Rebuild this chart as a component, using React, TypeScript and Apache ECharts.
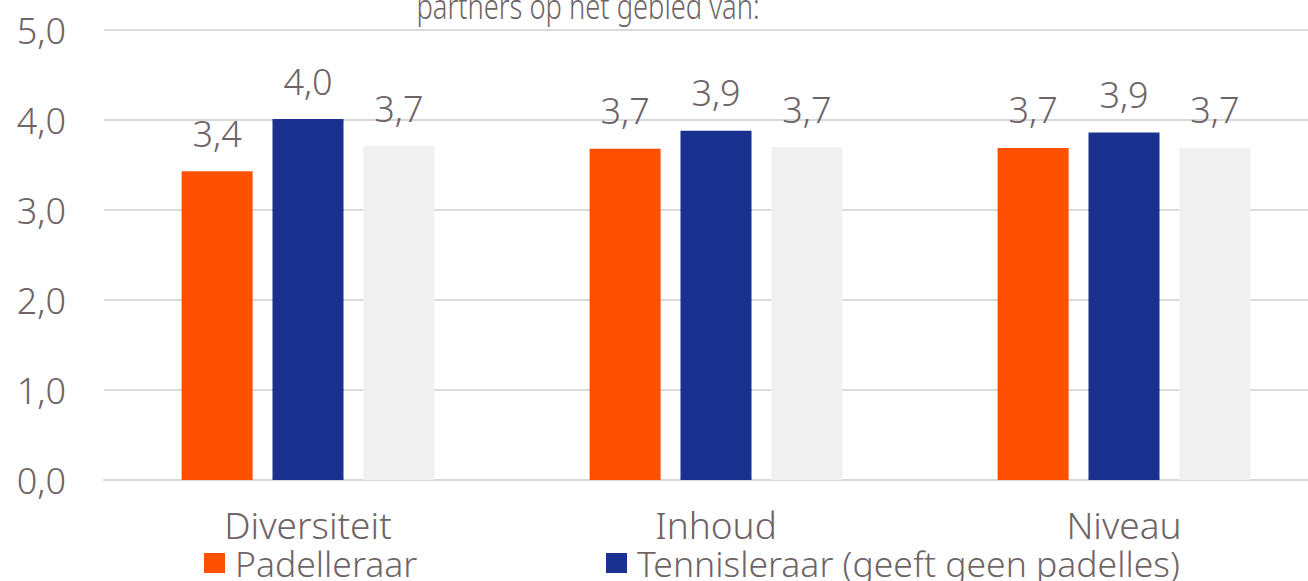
import React, { useEffect, useRef } from "react";
import * as echarts from "echarts";

const categories = ["Diversiteit", "Inhoud", "Niveau"];
const padelleraar = [3.43, 3.68, 3.69];
const tennisleraar = [4.01, 3.88, 3.86];
const overig = [3.71, 3.7, 3.69];
const seriesNames = ["Padelleraar", "Tennisleraar (geeft geen padelles)", "Overig"];
const titleText = "partners op het gebied van:";

const FONT = "Noto Sans";
const TXT = "#6E6466";
const W = 300;

export default function App() {
  const ref = useRef<HTMLDivElement>(null);
  useEffect(() => {
    document.documentElement.style.overflow = "hidden";
    document.body.style.margin = "0";
    document.body.style.overflow = "hidden";
    const chart = echarts.init(ref.current!, undefined, { renderer: "svg" });
    const fmt = (v: number) => v.toFixed(1).replace(".", ",");
    const label = {
      show: true,
      position: "top" as const,
      distance: 20,
      color: TXT,
      fontFamily: FONT,
      fontWeight: W,
      fontSize: 36,
      formatter: (p: any) => fmt(p.value),
    };
    const legendText = { color: TXT, fontSize: 35.5, fontFamily: FONT, fontWeight: W, padding: [0, 0, 6, 5] };
    chart.setOption({
      animation: false,
      textStyle: { fontFamily: FONT },
      grid: { left: 104, right: 0, top: 30, bottom: 101, containLabel: false },
      legend: [
        { data: [seriesNames[0]], left: 199, top: 540, itemWidth: 21, itemHeight: 20, icon: "rect", textStyle: legendText },
        { data: [seriesNames[1]], left: 601, top: 540, itemWidth: 21, itemHeight: 20, icon: "rect", textStyle: legendText },
      ],
      graphic: [
        {
          type: "text",
          x: 588,
          y: 23,
          scaleX: 0.78,
          style: {
            text: titleText,
            fill: TXT,
            font: `${W} 35px '${FONT}'`,
            textAlign: "center",
            textVerticalAlign: "bottom",
          },
        },
      ],
      xAxis: {
        type: "category",
        data: categories,
        axisLine: { lineStyle: { color: "#D9D9D9", width: 2 } },
        axisTick: { show: false },
        axisLabel: { color: TXT, fontSize: 37, fontFamily: FONT, fontWeight: W, margin: 26 },
      },
      yAxis: {
        type: "value",
        min: 0,
        max: 5,
        interval: 1,
        axisLabel: {
          color: TXT,
          fontSize: 36,
          fontFamily: FONT,
          fontWeight: W,
          margin: 38,
          formatter: (v: number) => fmt(v),
        },
        splitLine: { lineStyle: { color: "#D9D9D9", width: 2 } },
      },
      series: [
        { name: seriesNames[0], type: "bar", data: padelleraar, barWidth: 71, barGap: "28%", itemStyle: { color: "#FF5000" }, label },
        { name: seriesNames[1], type: "bar", data: tennisleraar, barWidth: 71, barGap: "28%", itemStyle: { color: "#1A3190" }, label },
        { name: seriesNames[2], type: "bar", data: overig, barWidth: 71, barGap: "28%", itemStyle: { color: "#F0F0F0" }, label },
      ],
    });
    return () => chart.dispose();
  }, []);
  return <div ref={ref} style={{ width: 1328, height: 581, position: "absolute", left: 0, top: 0 }} />;
}
